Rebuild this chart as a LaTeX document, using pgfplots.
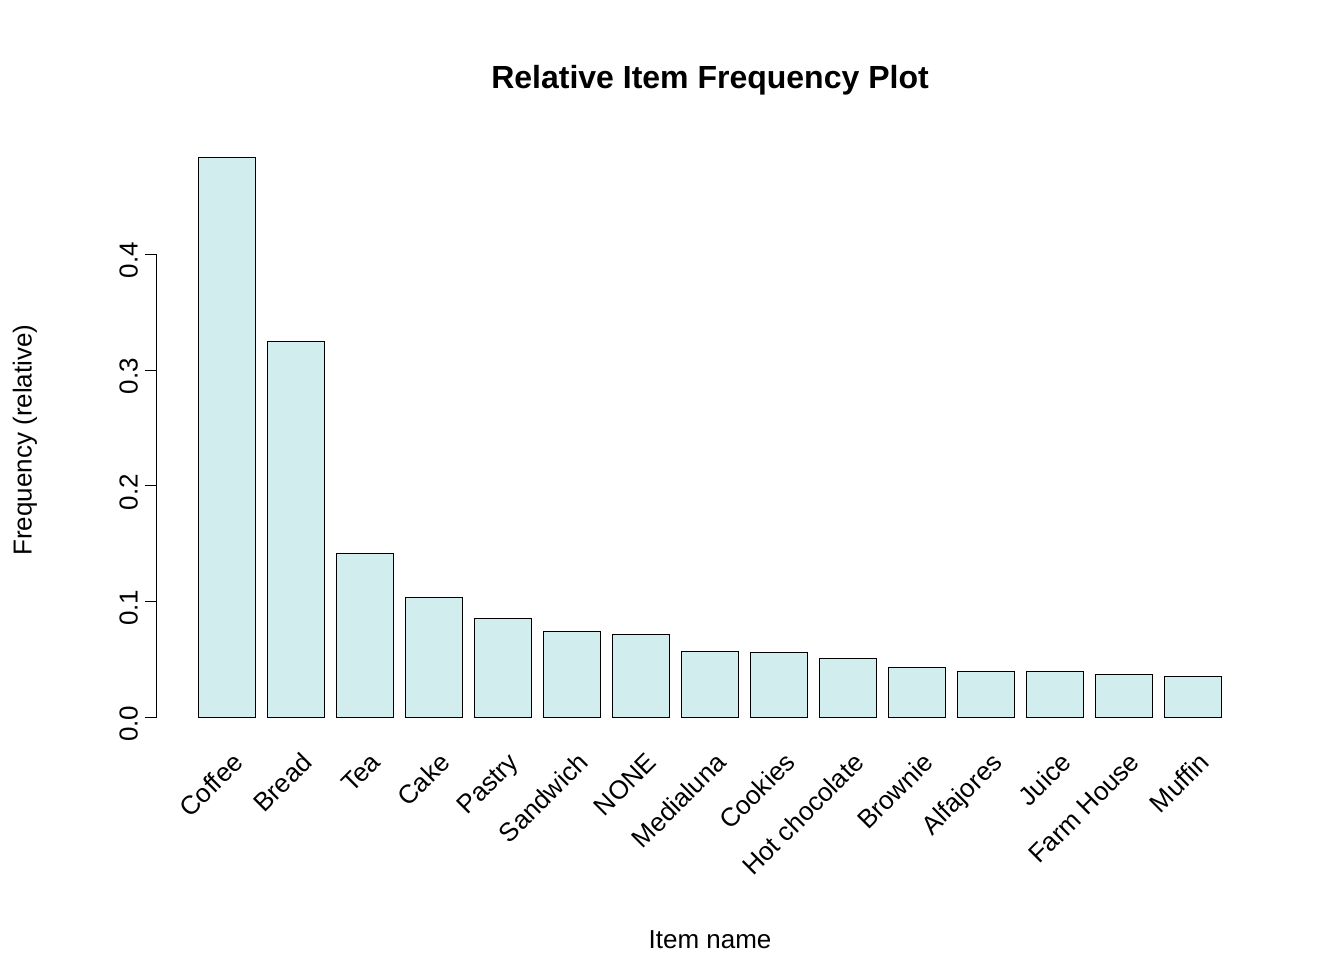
\documentclass[border=0pt]{standalone}
\usepackage{pgfplots}
\pgfplotsset{compat=1.18}
\usepackage{fontspec}
\setmainfont{Liberation Sans}
\definecolor{barfill}{HTML}{D1EDED}
\begin{document}
\begin{tikzpicture}
\path (-78.5pt,-110pt) rectangle (593.5pt,370pt);
\begin{axis}[
  at={(0,0)}, anchor=south west,
  scale only axis, width=552.5pt, height=302.5pt,
  xmin=-1.0145, xmax=15.0, ymin=-0.0193, ymax=0.503,
  axis x line*=bottom,
  x axis line style={draw=none},
  xtick={0,...,14},
  xticklabels={Coffee,Bread,Tea,Cake,Pastry,Sandwich,NONE,Medialuna,Cookies,Hot chocolate,Brownie,Alfajores,Juice,Farm House,Muffin},
  xtick style={draw=none},
  xticklabel style={rotate=45, anchor=north east, inner sep=1pt, xshift=3pt, font=\fontsize{13}{15}\selectfont},
  axis y line*=left,
  y axis line style={draw=none},
  ytick={0,0.1,0.2,0.3,0.4},
  yticklabels={0.0,0.1,0.2,0.3,0.4},
  tick align=outside, major tick length=6pt,
  ytick style={black, line width=0.5pt},
  yticklabel style={rotate=90, anchor=south, font=\fontsize{13}{15}\selectfont, xshift=-3pt},
  clip=false,
]
\addplot[ybar, bar width=0.84, fill=barfill, draw=black, line width=0.5pt] coordinates {
(0,0.4836) (1,0.325) (2,0.142) (3,0.104) (4,0.086) (5,0.074) (6,0.0716) (7,0.0569)
(8,0.056) (9,0.0509) (10,0.0431) (11,0.0397) (12,0.0397) (13,0.0371) (14,0.0353)};
\draw[line width=0.5pt] (axis cs:-1.0145,0) -- (axis cs:-1.0145,0.4);
\end{axis}
\node[font=\bfseries\fontsize{16}{18}\selectfont] at (276.5pt,330pt) {Relative Item Frequency Plot};
\node[font=\fontsize{13}{15}\selectfont] at (276.5pt,-100pt) {Item name};
\node[rotate=90, font=\fontsize{13}{15}\selectfont] at (-66pt,150pt) {Frequency (relative)};
\end{tikzpicture}
\end{document}
